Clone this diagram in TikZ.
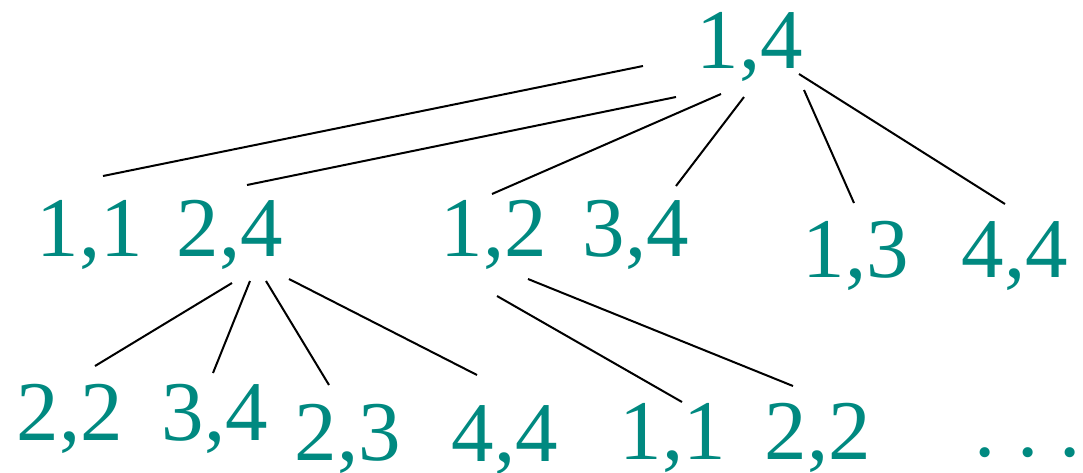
\documentclass[tikz,border=0pt]{standalone}
\usepackage{fontspec}
\setmainfont{Liberation Serif}
\definecolor{pairteal}{RGB}{0,137,128}
\tikzset{
  pair/.style={text=pairteal, inner sep=0pt, anchor=base, font=\fontsize{42.5}{48}\selectfont},
  link/.style={line width=1pt, black}
}
\begin{document}
\begin{tikzpicture}[x=0.5pt, y=-0.5pt]
  \useasboundingbox (0,0) rectangle (1083,472);

  % level 0
  \node[pair] (root) at (750,68) {1,4};

  % level 1
  \node[pair] (a11) at (90,256) {1,1};
  \node[pair] (a24) at (230,256) {2,4};
  \node[pair] (a12) at (494,256) {1,2};
  \node[pair] (a34) at (636,256) {3,4};
  \node[pair] (a13) at (856,277) {1,3};
  \node[pair] (a44) at (1015,277) {4,4};

  % level 2
  \node[pair] (b22) at (70,440) {2,2};
  \node[pair] (b34) at (215,440) {3,4};
  \node[pair] (b23) at (348,460) {2,3};
  \node[pair] (b44) at (505,461) {4,4};
  \node[pair] (b11) at (673,459) {1,1};
  \node[pair] (b22x) at (818,459) {2,2};
  \node[pair] (more) at (1028,456) {.\hspace{0.25em}.\hspace{0.25em}.};

  % line ends
  \coordinate (r1) at (643,66);  \coordinate (c1) at (103,176);
  \coordinate (r2) at (676,97);  \coordinate (c2) at (247,185);
  \coordinate (r3) at (721,94);  \coordinate (c3) at (492,194);
  \coordinate (r4) at (744,97);  \coordinate (c4) at (676,186);
  \coordinate (r5) at (804,90);  \coordinate (c5) at (854,203);
  \coordinate (r6) at (799,74);  \coordinate (c6) at (1005,204);
  \coordinate (p1) at (232,283); \coordinate (q1) at (95,366);
  \coordinate (p2) at (250,281); \coordinate (q2) at (213,373);
  \coordinate (p3) at (266,281); \coordinate (q3) at (329,385);
  \coordinate (p4) at (289,279); \coordinate (q4) at (477,375);
  \coordinate (p5) at (497,296); \coordinate (q5) at (682,402);
  \coordinate (p6) at (528,279); \coordinate (q6) at (793,386);

  \foreach \i in {1,...,6} {
    \draw[link] (r\i) -- (c\i);
    \draw[link] (p\i) -- (q\i);
  }
\end{tikzpicture}
\end{document}
